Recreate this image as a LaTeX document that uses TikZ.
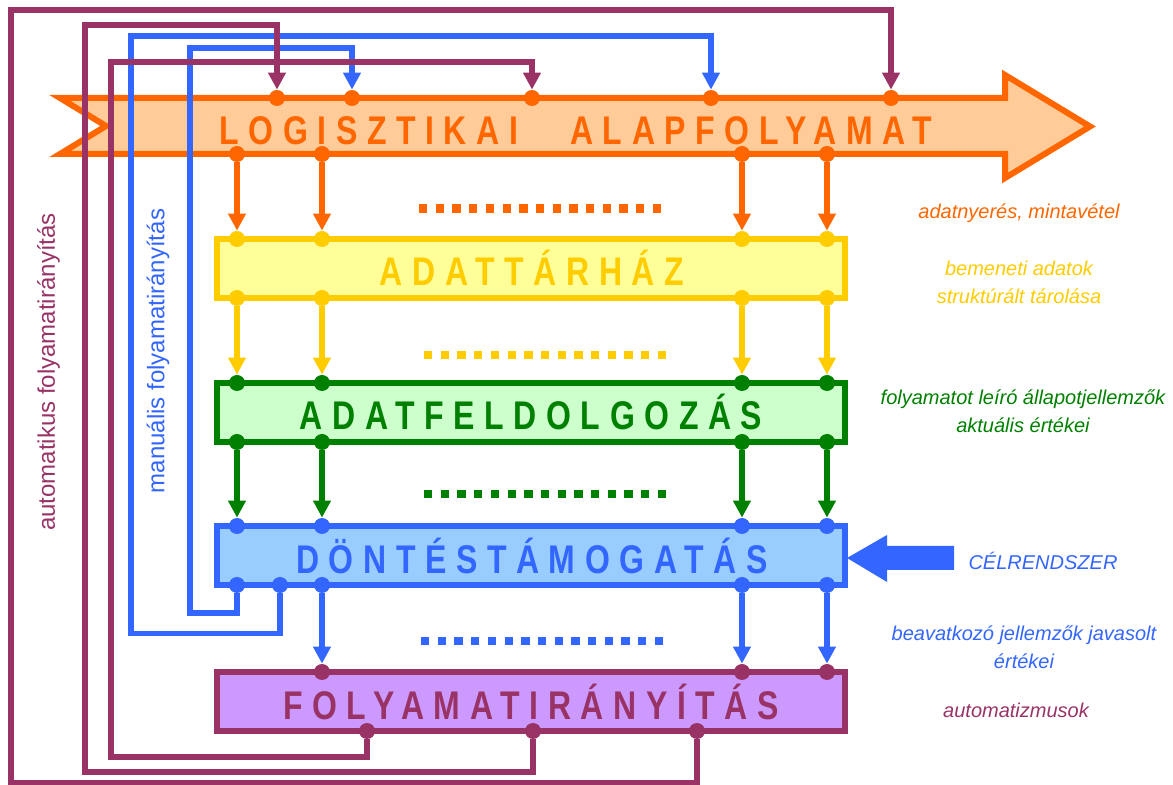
\documentclass[tikz,border=0pt]{standalone}
\usepackage{fontspec}
\setmainfont{Liberation Sans}
\newfontfamily\boxfont[FakeStretch=0.8,LetterSpace=24]{Liberation Sans}
\usetikzlibrary{arrows.meta}
\definecolor{cOr}{HTML}{FF6600}
\definecolor{cOrF}{HTML}{FFCC99}
\definecolor{cYe}{HTML}{FFCC00}
\definecolor{cYeF}{HTML}{FFFF99}
\definecolor{cGr}{HTML}{008000}
\definecolor{cGrF}{HTML}{CCFFCC}
\definecolor{cBl}{HTML}{3366FF}
\definecolor{cBlF}{HTML}{99CCFF}
\definecolor{cPu}{HTML}{993366}
\definecolor{cPuF}{HTML}{CC99FF}
\begin{document}
\begin{tikzpicture}[x=0.5pt,y=-0.5pt,
  boxtext/.style={font={\boxfont\bfseries\fontsize{20pt}{22pt}\selectfont}, inner sep=0pt, anchor=base},
  lbl/.style={font={\itshape\fontsize{10pt}{14pt}\selectfont}, align=center, inner sep=0pt},
  vlbl/.style={rotate=90, inner sep=0pt, font={\fontsize{12pt}{13pt}\selectfont}},
  dot/.style={circle, fill=#1, inner sep=0pt, minimum size=8pt},
  conn/.style={draw=#1, line width=2.6pt},
  tip/.style={-{Triangle[length=8.5pt,width=8.5pt]}},
  stage/.style={rectangle, line width=3pt, minimum width=314pt, minimum height=29.5pt, inner sep=0pt},
  dotrow/.style={draw=#1, line width=4.3pt, dash pattern=on 4.15pt off 4.2pt}
]
\useasboundingbox (0,0) rectangle (1173,785);

% main process arrow
\draw[line width=3pt, draw=cOr, fill=cOrF] (60,98) -- (1005,98) -- (1005,75) -- (1090,126.5)
  -- (1005,178) -- (1005,154) -- (60,154) -- (106,126) -- cycle;
\node[boxtext, text=cOr] (tlog) at (576,145) {LOGISZTIKAI\hspace{26pt}ALAPFOLYAMAT};

% stage boxes
\node[stage, draw=cYe, fill=cYeF] (tar) at (531,268.5) {};
\node[stage, draw=cGr, fill=cGrF] (feld) at (531,412.5) {};
\node[stage, draw=cBl, fill=cBlF] (dont) at (531,555.5) {};
\node[stage, draw=cPu, fill=cPuF] (iran) at (531,701.5) {};
\node[boxtext, text=cYe] (ttar) at (532,286) {ADATTÁRHÁZ};
\node[boxtext, text=cGr] (tfeld) at (531,430) {ADATFELDOLGOZÁS};
\node[boxtext, text=cBl] (tdont) at (532,574) {DÖNTÉSTÁMOGATÁS};
\node[boxtext, text=cPu] (tiran) at (531,719) {FOLYAMATIRÁNYÍTÁS};

% dotted rows
\draw[dotrow=cOr] (419,208.5) -- (668,208.5);
\draw[dotrow=cYe] (424,355) -- (673,355);
\draw[dotrow=cGr] (424,494) -- (673,494);
\draw[dotrow=cBl] (421,641) -- (670,641);

% dots on the main arrow
\foreach \n/\x in {1/277,2/352,3/532,4/711,5/891}
  \node[dot=cOr] (at\n) at (\x,98) {};
\foreach \n/\x in {1/237,2/322,3/742,4/827} {
  \node[dot=cOr] (ab\n) at (\x,154) {};
  \node[dot=cYe] (yt\n) at (\x,239) {};
  \node[dot=cYe] (yb\n) at (\x,298) {};
  \node[dot=cGr] (gt\n) at (\x,383) {};
  \node[dot=cGr] (gb\n) at (\x,442) {};
  \node[dot=cBl] (bt\n) at (\x,526) {};
}
\node[dot=cBl] (bb1) at (237,585) {};
\node[dot=cBl] (bb5) at (280,585) {};
\node[dot=cBl] (bb2) at (322,585) {};
\node[dot=cBl] (bb3) at (742,585) {};
\node[dot=cBl] (bb4) at (827,585) {};
\node[dot=cPu] (pt2) at (322,672) {};
\node[dot=cPu] (pt3) at (742,672) {};
\node[dot=cPu] (pt4) at (827,672) {};
\node[dot=cPu] (pb1) at (367,731) {};
\node[dot=cPu] (pb2) at (533,731) {};
\node[dot=cPu] (pb3) at (697,731) {};

% vertical flow connectors
\foreach \n in {1,2,3,4} {
  \draw[conn=cOr, tip] (ab\n) -- (yt\n);
  \draw[conn=cYe, tip] (yb\n) -- (gt\n);
  \draw[conn=cGr, tip] (gb\n) -- (bt\n);
}
\draw[conn=cBl, tip] (bb2) -- (pt2);
\draw[conn=cBl, tip] (bb3) -- (pt3);
\draw[conn=cBl, tip] (bb4) -- (pt4);

% feedback loops
\draw[conn=cBl, tip] (bb1) -- (237,613) -- (190,613) -- (190,48) -| (at2);
\draw[conn=cBl, tip] (bb5) -- (280,633.5) -- (131,633.5) -- (131,36) -| (at4);
\draw[conn=cPu, tip] (pb1) -- (367,757) -- (111,757) -- (111,62) -| (at3);
\draw[conn=cPu, tip] (pb2) -- (533,772) -- (85,772) -- (85,25) -| (at1);
\draw[conn=cPu, tip] (pb3) -- (697,783) -- (11,783) -- (11,10) -| (at5);

% goal system arrow
\fill[cBl] (847,558) -- (887,535) -- (887,546) -- (954,546) -- (954,570) -- (887,570) -- (887,582) -- cycle;

% side labels
\node[lbl, text=cOr] (l1) at (1019,213) {adatnyerés, mintavétel};
\node[lbl, text=cYe] (l2) at (1019,282) {bemeneti adatok\\struktúrált tárolása};
\node[lbl, text=cGr] (l3) at (1023,411) {folyamatot leíró állapotjellemzők\\aktuális értékei};
\node[lbl, text=cBl] (l4) at (1043,561) {CÉLRENDSZER};
\node[lbl, text=cBl] (l5) at (1024,647) {beavatkozó jellemzők javasolt\\értékei};
\node[lbl, text=cPu] (l6) at (1016,710) {automatizmusok};

\node[vlbl, text=cPu] (lauto) at (48.5,372) {automatikus folyamatirányítás};
\node[vlbl, text=cBl] (lman) at (158,351) {manuális folyamatirányítás};
\end{tikzpicture}
\end{document}
